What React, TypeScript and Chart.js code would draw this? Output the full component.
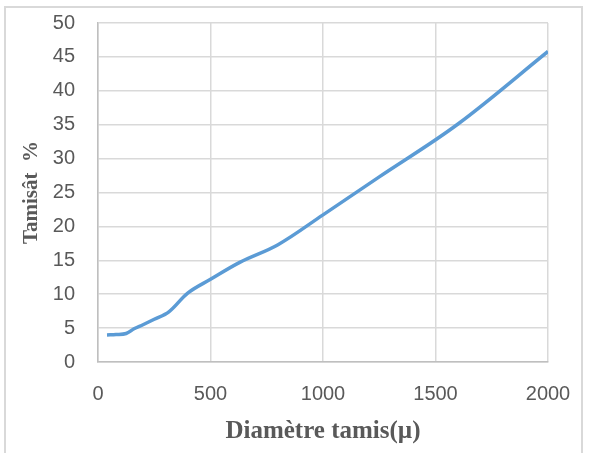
import React, { useEffect, useRef } from "react";
import { Chart, registerables } from "chart.js";

Chart.register(...registerables);

const diameters = [40, 80, 125, 160, 200, 250, 315, 400, 500, 630, 800, 1000, 1250, 1600, 2000];
const tamisat = [4.0, 4.05, 4.2, 4.9, 5.5, 6.3, 7.4, 10.2, 12.2, 14.7, 17.3, 21.7, 27.3, 35.1, 45.8];
const xTitle = "Diamètre tamis(µ)";
const yTitle = "Tamisât  %";

export default function App() {
  const ref = useRef<HTMLCanvasElement | null>(null);
  useEffect(() => {
    if (!ref.current) return;
    const points = diameters.map((d, i) => ({ x: d, y: tamisat[i] }));
    const tickFont = { family: "'Liberation Sans', Arial, sans-serif", size: 20 };
    const yTitleFont = { family: "'Liberation Serif', 'Times New Roman', serif", size: 21, weight: "bold" as const };
    const xTitleFont = { family: "'Liberation Serif', 'Times New Roman', serif", size: 25, weight: "bold" as const };
    const chart = new Chart(ref.current, {
      type: "scatter",
      data: {
        datasets: [
          {
            data: points,
            showLine: true,
            borderColor: "#5B9BD5",
            backgroundColor: "#5B9BD5",
            borderWidth: 3.5,
            pointRadius: 0,
            tension: 0.35,
          },
        ],
      },
      options: {
        animation: false,
        responsive: false,
        layout: { padding: { left: 19, right: 42, top: 23, bottom: 6 } },
        plugins: { legend: { display: false }, tooltip: { enabled: false } },
        scales: {
          x: {
            type: "linear",
            min: 0,
            max: 2000,
            ticks: {
              stepSize: 500,
              color: "#595959",
              font: tickFont,
              padding: 20,
              maxRotation: 0,
              callback: (v: any) => String(v),
            },
            grid: { color: "#d9d9d9", lineWidth: 1.5, drawTicks: false },
            border: { color: "#bfbfbf", width: 1.5 },
            title: { display: true, text: xTitle, color: "#595959", font: xTitleFont, padding: 0 },
            afterFit: (s: any) => {
              s.height = 453 - 6 - 362;
              s.paddingLeft = 0;
              s.paddingRight = 0;
            },
          },
          y: {
            type: "linear",
            min: 0,
            max: 50,
            ticks: { stepSize: 5, color: "#595959", font: tickFont, padding: 23 },
            grid: { color: "#d9d9d9", lineWidth: 1.5, drawTicks: false },
            border: { color: "#bfbfbf", width: 1.5 },
            title: { display: true, text: yTitle, color: "#595959", font: yTitleFont, padding: 0 },
            afterFit: (s: any) => {
              s.width = 98 - 19;
              s.paddingTop = 0;
              s.paddingBottom = 0;
            },
          },
        },
      },
    });
    return () => chart.destroy();
  }, []);
  return (
    <div style={{ position: "absolute", left: 0, top: 0, width: 590, height: 453, background: "#fff", overflow: "hidden" }}>
      <div
        style={{
          position: "absolute",
          left: 4,
          top: 6,
          width: 579,
          height: 470,
          border: "2px solid #d9d9d9",
          boxSizing: "border-box",
        }}
      />
      <canvas ref={ref} width={590} height={453} style={{ position: "absolute", left: 0, top: 0 }} />
    </div>
  );
}
